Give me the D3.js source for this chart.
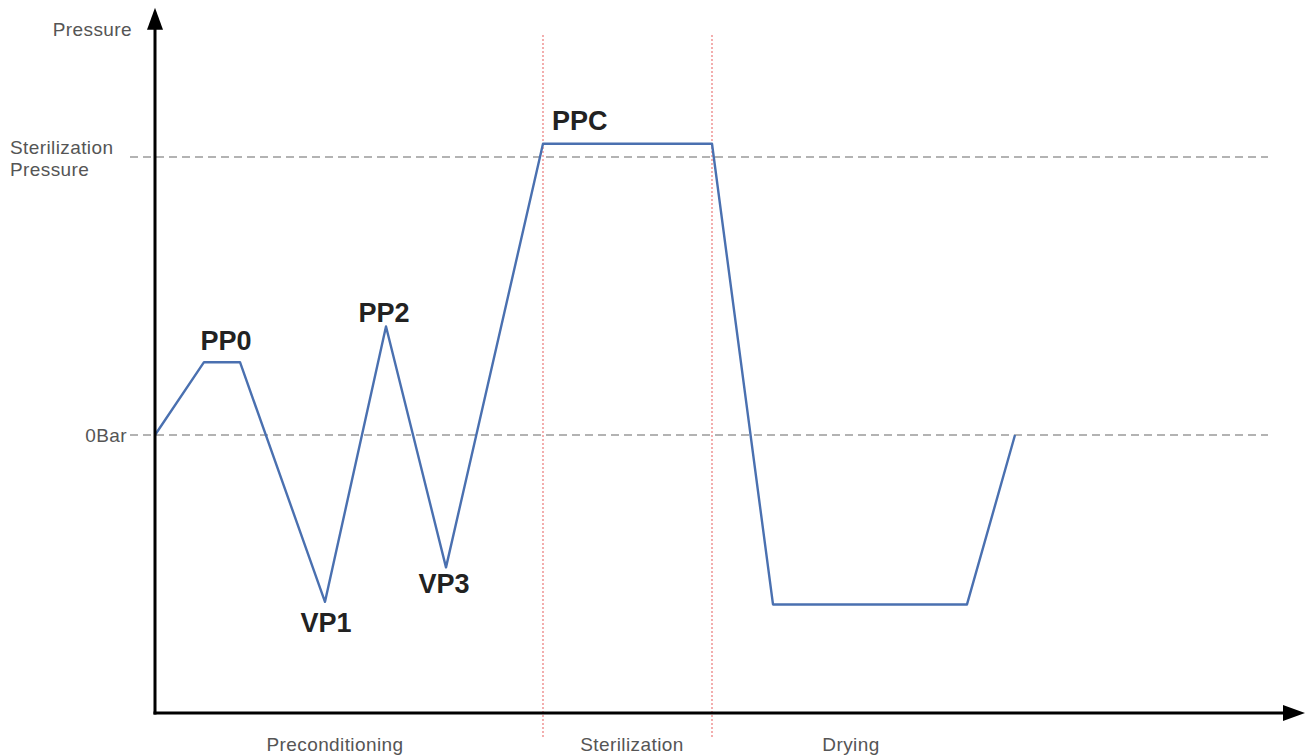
<!DOCTYPE html>
<html>
<head>
<meta charset="utf-8">
<script src="https://cdn.jsdelivr.net/npm/d3@7"></script>
<style>
  html, body { margin: 0; padding: 0; background: #fff; }
  svg { display: block; }
</style>
</head>
<body>
<svg id="chart" width="1309" height="756"></svg>
<script>
// ---- data ----
const times = [0, 49, 85, 170, 231, 291, 388, 557, 618, 812, 860];
const pressures = [0, 0.55, 0.55, -1.26, 0.82, -1.0, 2.2, 2.2, -1.28, -1.28, 0];
const pointLabels = ["", "PP0", "", "VP1", "PP2", "VP3", "PPC", "", "", "", ""];
const referenceLevels = [0, 2.1];
const referenceLabels = [["0Bar"], ["Sterilization", "Pressure"]];
const phaseBoundaries = [388, 557];
const phaseNames = ["Preconditioning", "Sterilization", "Drying"];
const phaseLabelTimes = [180, 477, 696];
const yAxisTitle = "Pressure";

// ---- layout ----
const svg = d3.select("#chart");
const x = d3.scaleLinear().domain([0, 1150]).range([155, 1305]);
const y = d3.scaleLinear().domain([0, 2.1]).range([435, 157]);
const yMin = -2.1, yMax = 3.22;
const x0 = x(0), yBase = y(yMin), yTop = y(yMax), xEnd = x(1150);

const labelFont = "'Liberation Sans', Arial, sans-serif";
const smallSize = 19, smallSpacing = 0.4;

// reference dashed lines
svg.append("g").selectAll("line").data(referenceLevels).join("line")
  .attr("x1", 130).attr("x2", 1268)
  .attr("y1", d => y(d)).attr("y2", d => y(d))
  .attr("stroke", "#9a9a9a").attr("stroke-width", 1.6)
  .attr("stroke-dasharray", "8,5");

// phase dotted red lines
svg.append("g").selectAll("line").data(phaseBoundaries).join("line")
  .attr("x1", d => x(d)).attr("x2", d => x(d))
  .attr("y1", 35).attr("y2", 737)
  .attr("stroke", "#f19a9a").attr("stroke-width", 1.6)
  .attr("stroke-dasharray", "2,2");

// pressure line
const pts = times.map((t, i) => ({t, p: pressures[i], label: pointLabels[i]}));
const line = d3.line().x(d => x(d.t)).y(d => y(d.p));
svg.append("path").datum(pts)
  .attr("d", line)
  .attr("fill", "none")
  .attr("stroke", "#4a70b0")
  .attr("stroke-width", 2.4)
  .attr("stroke-linejoin", "round");

// axes
svg.append("line").attr("x1", x0).attr("x2", x0)
  .attr("y1", yBase + 1.5).attr("y2", yTop + 18)
  .attr("stroke", "#000").attr("stroke-width", 3);
svg.append("line").attr("x1", x0 - 1.5).attr("x2", xEnd - 18)
  .attr("y1", yBase).attr("y2", yBase)
  .attr("stroke", "#000").attr("stroke-width", 3);
svg.append("path")
  .attr("d", `M${x0},${yTop - 1} L${x0 - 8},${yTop + 21} L${x0 + 8},${yTop + 21} Z`)
  .attr("fill", "#000");
svg.append("path")
  .attr("d", `M${xEnd},${yBase} L${xEnd - 22},${yBase - 8} L${xEnd - 22},${yBase + 8} Z`)
  .attr("fill", "#000");

// axis texts
const gray = "#555";
svg.append("text").text(yAxisTitle)
  .attr("x", 132).attr("y", 36)
  .attr("text-anchor", "end")
  .attr("font-family", labelFont).attr("font-size", smallSize).attr("letter-spacing", smallSpacing)
  .attr("fill", gray);

// reference labels
const refG = svg.append("g");
referenceLevels.forEach((lv, i) => {
  const lines = referenceLabels[i];
  if (lines.length === 1) {
    refG.append("text").text(lines[0])
      .attr("x", 127).attr("y", y(lv) + 6.5)
      .attr("text-anchor", "end")
      .attr("font-family", labelFont).attr("font-size", smallSize).attr("letter-spacing", smallSpacing)
      .attr("fill", gray);
  } else {
    lines.forEach((s, j) => {
      refG.append("text").text(s)
        .attr("x", 10).attr("y", y(lv) - 3 + j * 22)
        .attr("font-family", labelFont).attr("font-size", smallSize).attr("letter-spacing", smallSpacing)
        .attr("fill", gray);
    });
  }
});

// phase labels
svg.append("g").selectAll("text").data(phaseNames).join("text")
  .text(d => d)
  .attr("x", (d, i) => x(phaseLabelTimes[i]))
  .attr("y", 751)
  .attr("text-anchor", "middle")
  .attr("font-family", labelFont).attr("font-size", smallSize).attr("letter-spacing", smallSpacing)
  .attr("fill", gray);

// point labels
const offsets = {
  PP0: {dx: 22, dy: -12, anchor: "middle"},
  VP1: {dx: 1, dy: 30, anchor: "middle"},
  PP2: {dx: -2, dy: -4, anchor: "middle"},
  VP3: {dx: -2, dy: 26, anchor: "middle"},
  PPC: {dx: 9, dy: -14, anchor: "start"}
};
svg.append("g").selectAll("text").data(pts.filter(d => d.label)).join("text")
  .text(d => d.label)
  .attr("x", d => x(d.t) + offsets[d.label].dx)
  .attr("y", d => y(d.p) + offsets[d.label].dy)
  .attr("text-anchor", d => offsets[d.label].anchor)
  .attr("font-family", labelFont).attr("font-size", 27).attr("font-weight", "bold")
  .attr("fill", "#222");
</script>
</body>
</html>
